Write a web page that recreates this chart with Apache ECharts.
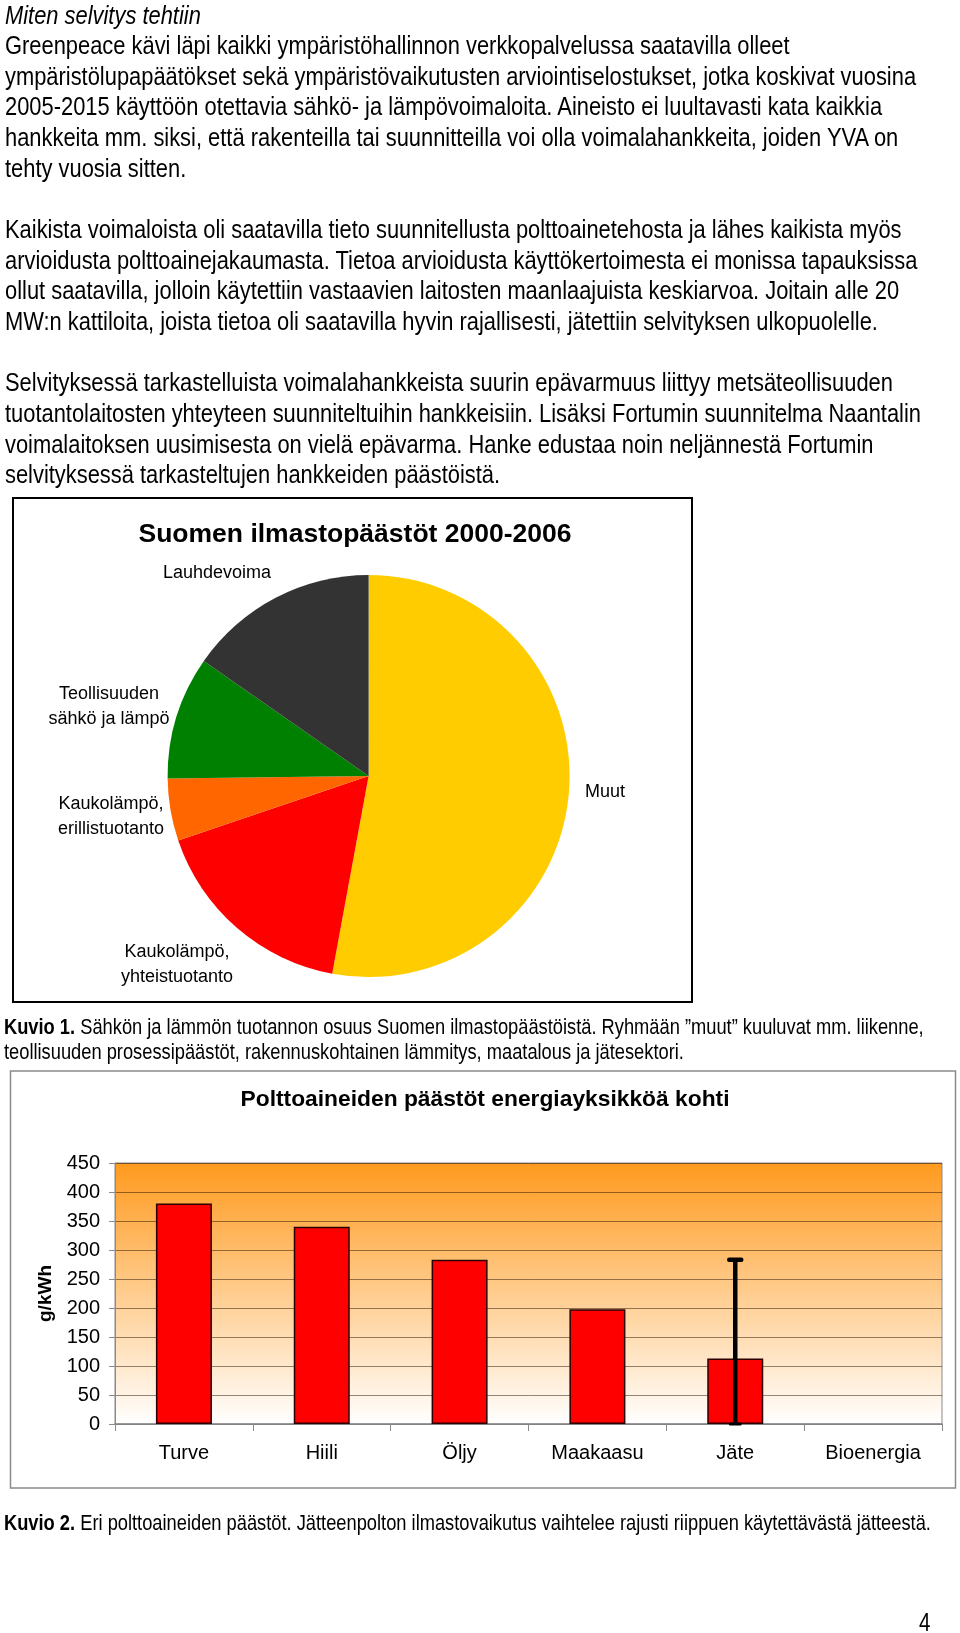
<!DOCTYPE html>
<html>
<head>
<meta charset="utf-8">
<script src="https://cdn.jsdelivr.net/npm/echarts@6/dist/echarts.min.js"></script>
<style>
  html, body { margin:0; padding:0; background:#fff; }
  body { width:960px; height:1633px; position:relative; overflow:hidden; }
  #c { position:absolute; left:0; top:0; width:960px; height:1633px; z-index:1; }
  .txt { position:absolute; z-index:2; white-space:nowrap; color:#000;
         font-family:"Liberation Sans Narrow","Arial Narrow","Liberation Sans",Arial,sans-serif; }
  #body { left:5px; top:-0.5px; font-size:26.7px; line-height:30.65px; }
  .cap { left:4px; font-size:22.3px; line-height:25px; }
  #pg { left:919px; top:1608px; font-size:25px; line-height:28px; }
  .sq { display:inline-block; transform-origin:0 50%; }
</style>
</head>
<body>
<div id="c"></div>
<div class="txt" id="body"><span class="sq"><i>Miten selvitys tehtiin</i><br>
Greenpeace kävi läpi kaikki ympäristöhallinnon verkkopalvelussa saatavilla olleet<br>
ympäristölupapäätökset sekä ympäristövaikutusten arviointiselostukset, jotka koskivat vuosina<br>
2005-2015 käyttöön otettavia sähkö- ja lämpövoimaloita. Aineisto ei luultavasti kata kaikkia<br>
hankkeita mm. siksi, että rakenteilla tai suunnitteilla voi olla voimalahankkeita, joiden YVA on<br>
tehty vuosia sitten.<br>
&nbsp;<br>
Kaikista voimaloista oli saatavilla tieto suunnitellusta polttoainetehosta ja lähes kaikista myös<br>
arvioidusta polttoainejakaumasta. Tietoa arvioidusta käyttökertoimesta ei monissa tapauksissa<br>
ollut saatavilla, jolloin käytettiin vastaavien laitosten maanlaajuista keskiarvoa. Joitain alle 20<br>
MW:n kattiloita, joista tietoa oli saatavilla hyvin rajallisesti, jätettiin selvityksen ulkopuolelle.<br>
&nbsp;<br>
Selvityksessä tarkastelluista voimalahankkeista suurin epävarmuus liittyy metsäteollisuuden<br>
tuotantolaitosten yhteyteen suunniteltuihin hankkeisiin. Lisäksi Fortumin suunnitelma Naantalin<br>
voimalaitoksen uusimisesta on vielä epävarma. Hanke edustaa noin neljännestä Fortumin<br>
selvityksessä tarkasteltujen hankkeiden päästöistä.</span></div>
<div class="txt cap" style="top:1014px;"><span class="sq"><b>Kuvio 1.</b> Sähkön ja lämmön tuotannon osuus Suomen ilmastopäästöistä. Ryhmään ”muut” kuuluvat mm. liikenne,<br>
teollisuuden prosessipäästöt, rakennuskohtainen lämmitys, maatalous ja jätesektori.</span></div>
<div class="txt cap" style="top:1510px;"><span class="sq"><b>Kuvio 2.</b> Eri polttoaineiden päästöt. Jätteenpolton ilmastovaikutus vaihtelee rajusti riippuen käytettävästä jätteestä.</span></div>
<div class="txt" id="pg"><span class="sq">4</span></div>
<script>
// ---- data ----
const pieNames = ['Muut', 'Kaukolämpö,\nyhteistuotanto', 'Kaukolämpö,\nerillistuotanto', 'Teollisuuden\nsähkö ja lämpö', 'Lauhdevoima'];
const pieValues = [52.9, 16.9, 5.0, 9.9, 15.3];
const pieColors = ['#FFCC00', '#FF0000', '#FF6600', '#008000', '#333333'];

const fuelCategories = ['Turve', 'Hiili', 'Öljy', 'Maakaasu', 'Jäte', 'Bioenergia'];
const fuelEmissions = [380, 340, 283, 198, 113, 0];
const errorLow = [null, null, null, null, 0, null];
const errorHigh = [null, null, null, null, 283, null];

const yMin = 0, yMax = 450, yStep = 50;

// ---- layout (not data) ----
const pieLabelPos = [[585, 792, 'left'], [177, 965, 'center'], [111, 817, 'center'], [109, 707, 'center'], [217, 573, 'center']];

// font detection for narrow body text
(function () {
  const cv = document.createElement('canvas').getContext('2d');
  cv.font = '20px "Liberation Sans Narrow", monospace';
  const a = cv.measureText('abcdefghijklmnop').width;
  cv.font = '20px monospace';
  const b = cv.measureText('abcdefghijklmnop').width;
  if (Math.abs(a - b) < 0.5) {
    document.querySelectorAll('.sq').forEach(function (s) {
      s.style.fontFamily = '"Liberation Sans", Arial, sans-serif';
      s.style.transform = 'scaleX(0.82)';
    });
  }
})();

const chart = echarts.init(document.getElementById('c'), null, { renderer: 'canvas', width: 960, height: 1633 });
const FF = '"Liberation Sans", Arial, sans-serif';

const errData = [];
errorHigh.forEach(function (h, i) { if (h !== null) errData.push([i, errorLow[i], h]); });

chart.setOption({
  animation: false,
  textStyle: { fontFamily: FF },
  graphic: [
    { type: 'rect', shape: { x: 13, y: 498, width: 679, height: 504 }, style: { fill: null, stroke: '#000', lineWidth: 2 }, silent: true },
    { type: 'rect', shape: { x: 10.5, y: 1071, width: 945, height: 417 }, style: { fill: null, stroke: '#8a8a8a', lineWidth: 1.5 }, silent: true },
    { type: 'text', x: 355, y: 535, style: { text: 'Suomen ilmastopäästöt 2000-2006', font: 'bold 26.5px ' + FF, fill: '#000', align: 'center', verticalAlign: 'middle' } },
    { type: 'text', x: 485, y: 1100, style: { text: 'Polttoaineiden päästöt energiayksikköä kohti', font: 'bold 22.8px ' + FF, fill: '#000', align: 'center', verticalAlign: 'middle' } }
  ],
  grid: {
    left: 115, top: 1163, width: 827, height: 261, show: true,
    backgroundColor: { type: 'linear', x: 0, y: 0, x2: 0, y2: 1, colorStops: [{ offset: 0, color: '#FF9A1E' }, { offset: 1, color: '#FFFFFF' }] },
    borderColor: '#8a8a8a', borderWidth: 1
  },
  xAxis: {
    type: 'category', data: fuelCategories,
    axisLine: { lineStyle: { color: '#8a8a8a', width: 1.5 } },
    axisTick: { show: true, length: 7, lineStyle: { color: '#8a8a8a' } },
    axisLabel: { color: '#000', fontSize: 20, margin: 19, fontFamily: FF }
  },
  yAxis: {
    type: 'value', min: yMin, max: yMax, interval: yStep,
    name: 'g/kWh', nameLocation: 'middle', nameGap: 60,
    nameTextStyle: { fontWeight: 'bold', fontSize: 19, color: '#000', fontFamily: FF },
    axisLine: { show: true, lineStyle: { color: '#8a8a8a', width: 1 } },
    axisTick: { show: true, length: 6, lineStyle: { color: '#8a8a8a' } },
    axisLabel: { color: '#000', fontSize: 20, margin: 15, fontFamily: FF },
    splitLine: { show: true, lineStyle: { color: 'rgba(40,20,0,0.5)', width: 1 } }
  },
  series: [
    {
      type: 'pie', center: [368.6, 776], radius: 201, startAngle: 90, clockwise: true,
      silent: true, avoidLabelOverlap: false,
      data: pieNames.map(function (n, i) { return { name: n, value: pieValues[i], itemStyle: { color: pieColors[i] } }; }),
      itemStyle: { borderWidth: 0 },
      label: { show: true, position: 'outside', formatter: '{b}', color: '#000', fontSize: 18, lineHeight: 25, fontFamily: FF },
      labelLine: { show: false },
      labelLayout: function (p) { const q = pieLabelPos[p.dataIndex]; return { x: q[0], y: q[1], align: q[2], verticalAlign: 'middle' }; },
      emphasis: { disabled: true }
    },
    {
      type: 'bar', silent: true, barWidth: 56,
      data: fuelEmissions.map(function (v) { return v === 0 ? { value: v, itemStyle: { borderWidth: 0 } } : v; }),
      itemStyle: { color: '#FF0000', borderColor: '#2a0000', borderWidth: 1.5 }
    },
    {
      type: 'custom', data: errData, silent: true, z: 10,
      renderItem: function (params, api) {
        const lo = api.coord([api.value(0), api.value(1)]);
        const hi = api.coord([api.value(0), api.value(2)]);
        return {
          type: 'group', children: [
            { type: 'line', shape: { x1: lo[0], y1: lo[1], x2: hi[0], y2: hi[1] }, style: { stroke: '#000', lineWidth: 4.5 } },
            { type: 'line', shape: { x1: hi[0] - 6, y1: hi[1], x2: hi[0] + 6, y2: hi[1] }, style: { stroke: '#000', lineWidth: 4.5, lineCap: 'round' } },
            { type: 'line', shape: { x1: lo[0] - 5, y1: lo[1], x2: lo[0] + 5, y2: lo[1] }, style: { stroke: '#000', lineWidth: 3, lineCap: 'round' } }
          ]
        };
      }
    }
  ]
});
</script>
</body>
</html>
